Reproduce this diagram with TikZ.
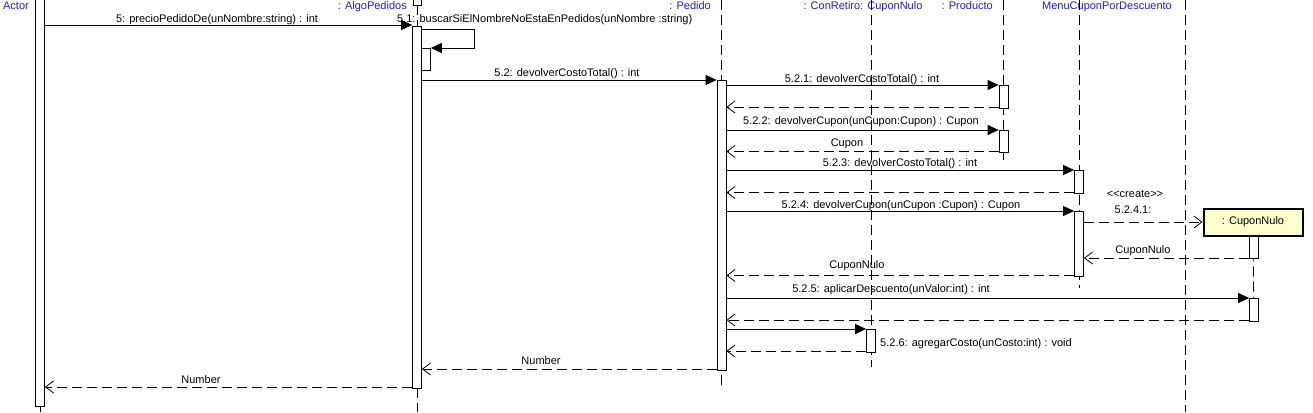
\documentclass[tikz,border=0pt]{standalone}
\usepackage{fontspec}
\setmainfont{Liberation Sans}
\usetikzlibrary{arrows.meta}
\definecolor{hdr}{RGB}{30,30,210}
\definecolor{objfill}{RGB}{255,255,204}
\newcommand\actbar[4]{\node[actbar, minimum height={#4-#3}] (#1) at (#2,{(#3+#4)/2}) {};}
\begin{document}
\begin{tikzpicture}[x=1pt,y=-1pt, font=\fontsize{11}{13}\selectfont,
  lifeline/.style={line width=0.8pt, dash pattern=on 10pt off 5pt},
  actbar/.style={draw, fill=white, line width=0.8pt, inner sep=0pt, minimum width=9pt},
  call/.style={line width=0.8pt, -{Triangle[length=11pt,width=10pt]}},
  ret/.style={line width=0.8pt, dash pattern=on 10pt off 5pt, -{Straight Barb[length=8pt,width=12pt]}},
  hdrlbl/.style={text=hdr, anchor=base, inner sep=0pt},
  lbl/.style={anchor=base, inner sep=0pt}]
\useasboundingbox[fill=white] (0,0) rectangle (1313,412);

% headers
\node[hdrlbl] (hActor) at (16,10) {Actor};
\node[hdrlbl, anchor=base east] (hAlgo) at (407,10) {: AlgoPedidos};
\node[hdrlbl, anchor=base east] (hPed) at (711,10) {: Pedido};
\node[hdrlbl] (hCR) at (863,10) {: ConRetiro: CuponNulo};
\node[hdrlbl, anchor=base east] (hProd) at (993,10) {: Producto};
\node[hdrlbl] (hMenu) at (1107,10) {MenuCuponPorDescuento};
\node[draw, line width=0.8pt, minimum width=8pt, minimum height=12pt, inner sep=0pt] (algohead) at (417,-1) {};

% lifelines
\coordinate (endActor) at (40,412);
\coordinate (topPed) at (721.5,0);  \coordinate (endPed) at (721.5,385);
\coordinate (topCR) at (871,0);     \coordinate (endCR) at (871,367);
\coordinate (topProd) at (1003.5,0);\coordinate (endProd) at (1003.5,163);
\coordinate (topMenu) at (1079,0);  \coordinate (endMenu) at (1079,288);
\coordinate (topX) at (1185.5,0);   \coordinate (endX) at (1185.5,412);
\coordinate (endAlgo) at (417,412);
\coordinate (endCN) at (1254,326);

\draw[lifeline] (topPed) -- (endPed);
\draw[lifeline] (topCR) -- (endCR);
\draw[lifeline] (topProd) -- (endProd);
\draw[lifeline] (topMenu) -- (endMenu);
\draw[lifeline] (topX) -- (endX);

% activation bars
\actbar{actorbar}{40}{-2}{406}
\draw[lifeline] (actorbar.south) -- (endActor);
\draw[lifeline] (algohead.south) -- (417,26);
\actbar{algobar}{417}{26}{388}
\draw[lifeline] (algobar.south) -- (endAlgo);
\actbar{nested}{426}{48}{70}
\actbar{pedbar}{721.5}{80}{370}
\actbar{prod1}{1003.5}{85}{108}
\actbar{prod2}{1003.5}{130}{152}
\actbar{menu1}{1079}{170}{193}
\actbar{menu2}{1079}{211}{276}
\actbar{crbar}{871}{329}{352}
\node[draw, fill=objfill, line width=2pt, minimum width=99pt, minimum height=27pt, inner sep=0pt] (cn) at (1253,222) {: CuponNulo};
\draw[lifeline] (cn.south) -- (endCN);
\actbar{cn1}{1254}{236}{258}
\actbar{cn2}{1254}{298}{321}

% messages
\draw[call] (actorbar.east |- 0,25) -- (algobar.west |- 0,25);
\node[lbl] (m5) at (217,23) {5: precioPedidoDe(unNombre:string) : int};

\coordinate (sc1) at (474,29); \coordinate (sc2) at (474,48);
\draw[call] (algobar.east |- 0,29) -- (sc1) -- (sc2) -- (nested.east |- 0,48);
\node[lbl, anchor=base west] (m51) at (397,23) {5.1: buscarSiElNombreNoEstaEnPedidos(unNombre :string)};

\draw[call] (algobar.east |- 0,80) -- (pedbar.west |- 0,80);
\node[lbl] (m52) at (567,77) {5.2: devolverCostoTotal() : int};

\draw[call] (pedbar.east |- 0,85) -- (prod1.west |- 0,85);
\node[lbl] (m521) at (862,82) {5.2.1: devolverCostoTotal() : int};
\draw[ret] (prod1.west |- 0,107) -- (pedbar.east |- 0,107);

\draw[call] (pedbar.east |- 0,130) -- (prod2.west |- 0,130);
\node[lbl] (m522) at (861,124) {5.2.2: devolverCupon(unCupon:Cupon) : Cupon};
\draw[ret] (prod2.west |- 0,151.5) -- (pedbar.east |- 0,151.5);
\node[lbl] (r522) at (847,146) {Cupon};

\draw[call] (pedbar.east |- 0,170) -- (menu1.west |- 0,170);
\node[lbl] (m523) at (900,166) {5.2.3: devolverCostoTotal() : int};
\draw[ret] (menu1.west |- 0,192.5) -- (pedbar.east |- 0,192.5);

\draw[call] (pedbar.east |- 0,211) -- (menu2.west |- 0,211);
\node[lbl] (m524) at (901,208) {5.2.4: devolverCupon(unCupon :Cupon) : Cupon};

\draw[ret] (menu2.east |- 0,222) -- (cn.west |- 0,222);
\node[lbl] (cr) at (1135,197) {<{}<create>{}>};
\node[lbl] (m5241) at (1133,213) {5.2.4.1:};

\draw[ret] (cn1.west |- 0,258) -- (menu2.east |- 0,258);
\node[lbl] (rcn1) at (1143,253) {CuponNulo};

\draw[ret] (menu2.west |- 0,275.5) -- (pedbar.east |- 0,275.5);
\node[lbl] (rcn2) at (857,268) {CuponNulo};

\draw[call] (pedbar.east |- 0,298) -- (cn2.west |- 0,298);
\node[lbl] (m525) at (891,292) {5.2.5: aplicarDescuento(unValor:int) : int};
\draw[ret] (cn2.west |- 0,320) -- (pedbar.east |- 0,320);

\draw[call] (pedbar.east |- 0,329) -- (crbar.west |- 0,329);
\node[lbl, anchor=base west] (m526) at (880,346) {5.2.6: agregarCosto(unCosto:int) : void};
\draw[ret] (crbar.west |- 0,351) -- (pedbar.east |- 0,351);

\draw[ret] (pedbar.west |- 0,369) -- (algobar.east |- 0,369);
\node[lbl] (rn1) at (541,364) {Number};

\draw[ret] (algobar.west |- 0,387) -- (actorbar.east |- 0,387);
\node[lbl] (rn2) at (201,383) {Number};
\end{tikzpicture}
\end{document}
